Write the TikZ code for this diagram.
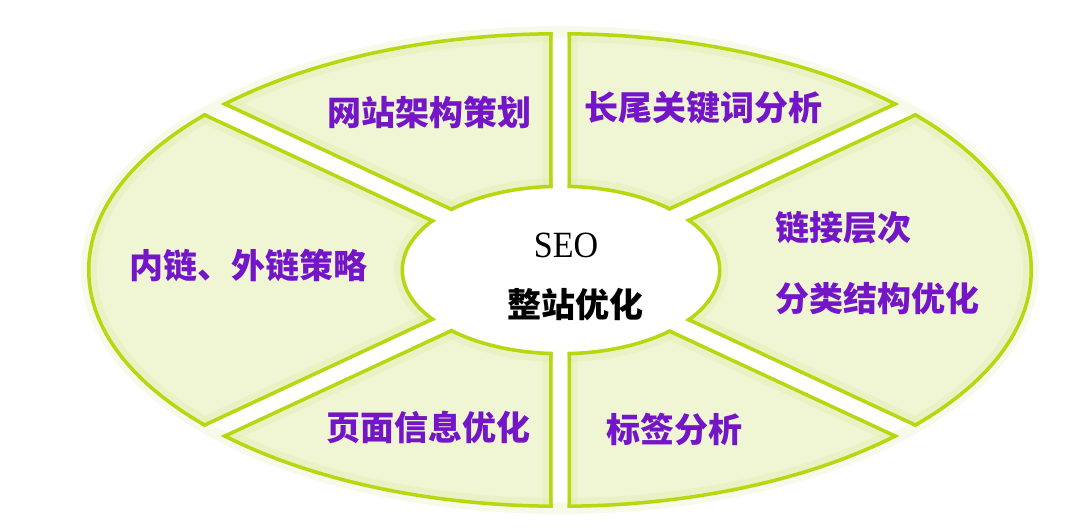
\documentclass[tikz,border=0pt]{standalone}
\usepackage{fontspec}
\setmainfont{Liberation Serif}
\newfontfamily\cjk{Noto Sans CJK SC}
\definecolor{segline}{HTML}{B8D70F}
\definecolor{segfill}{HTML}{F0F6D4}
\definecolor{segglow}{HTML}{E2EEB0}
\definecolor{txtpurple}{HTML}{7416C8}
\tikzset{
  outerell/.style={insert path={(560,270) ellipse [x radius=473pt, y radius=238pt]}},
  innerell/.style={insert path={(561,270) ellipse [x radius=157pt, y radius=82pt]}},
  lbl/.style={font=\cjk\bfseries\fontsize{34}{40}\selectfont, text=txtpurple, inner sep=0pt},
}
\newcommand\segmentshape[1]{%
  \begin{scope}[even odd rule]
    \clip #1;
    \clip (560,270) ellipse [x radius=473pt, y radius=238pt]
          (561,270) ellipse [x radius=157pt, y radius=82pt];
    \fill[segfill] (-300,-300) rectangle (1400,900);
    \draw[segglow, line width=20pt, opacity=0.4] #1;
    \draw[segglow, line width=20pt, opacity=0.4, outerell];
    \draw[segglow, line width=20pt, opacity=0.4, innerell];
    \draw[segline, line width=7pt] #1;
    \draw[segline, line width=7pt, outerell];
    \draw[segline, line width=7pt, innerell];
  \end{scope}}
\begin{document}
\begin{tikzpicture}[x=1pt,y=-1pt]
\useasboundingbox (0,0) rectangle (1080,529);
\path[fill=white] (0,0) rectangle (1080,529);
\draw[segglow, line width=12pt, opacity=0.25, outerell];
% top-left
\segmentshape{(552.5,258.24) -- (552.5,-300) -- (-300,-300) -- (-300,-138.2) -- cycle}
% top-right
\segmentshape{(567.5,258.24) -- (567.5,-300) -- (1400,-300) -- (1400,-128.9) -- cycle}
% right
\segmentshape{(577.8,270) -- (1400,-112.3) -- (1400,652.3) -- cycle}
% left
\segmentshape{(542.2,270) -- (-300,-121.6) -- (-300,661.6) -- cycle}
% bottom-right
\segmentshape{(567.5,281.76) -- (1400,668.9) -- (1400,900) -- (567.5,900) -- cycle}
% bottom-left
\segmentshape{(552.5,281.76) -- (552.5,900) -- (-300,900) -- (-300,678.2) -- cycle}

\node[lbl] (t1) at (429,112) {网站架构策划};
\node[lbl] (t2) at (703,108) {长尾关键词分析};
\node[lbl] (t3) at (248,265) {内链、外链策略};
\node[lbl, anchor=west] (t4) at (775,228) {链接层次};
\node[lbl, anchor=west] (t5) at (775,299) {分类结构优化};
\node[lbl] (t6) at (428,427) {页面信息优化};
\node[lbl] (t7) at (674,429) {标签分析};
\node[font=\fontsize{37}{40}\selectfont, inner sep=0pt] (seo) at (566,245.5) {\scalebox{0.92}[1]{SEO}};
\node[font=\cjk\bfseries\fontsize{34}{40}\selectfont, inner sep=0pt] (zz) at (575,305) {整站优化};
\end{tikzpicture}
\end{document}
